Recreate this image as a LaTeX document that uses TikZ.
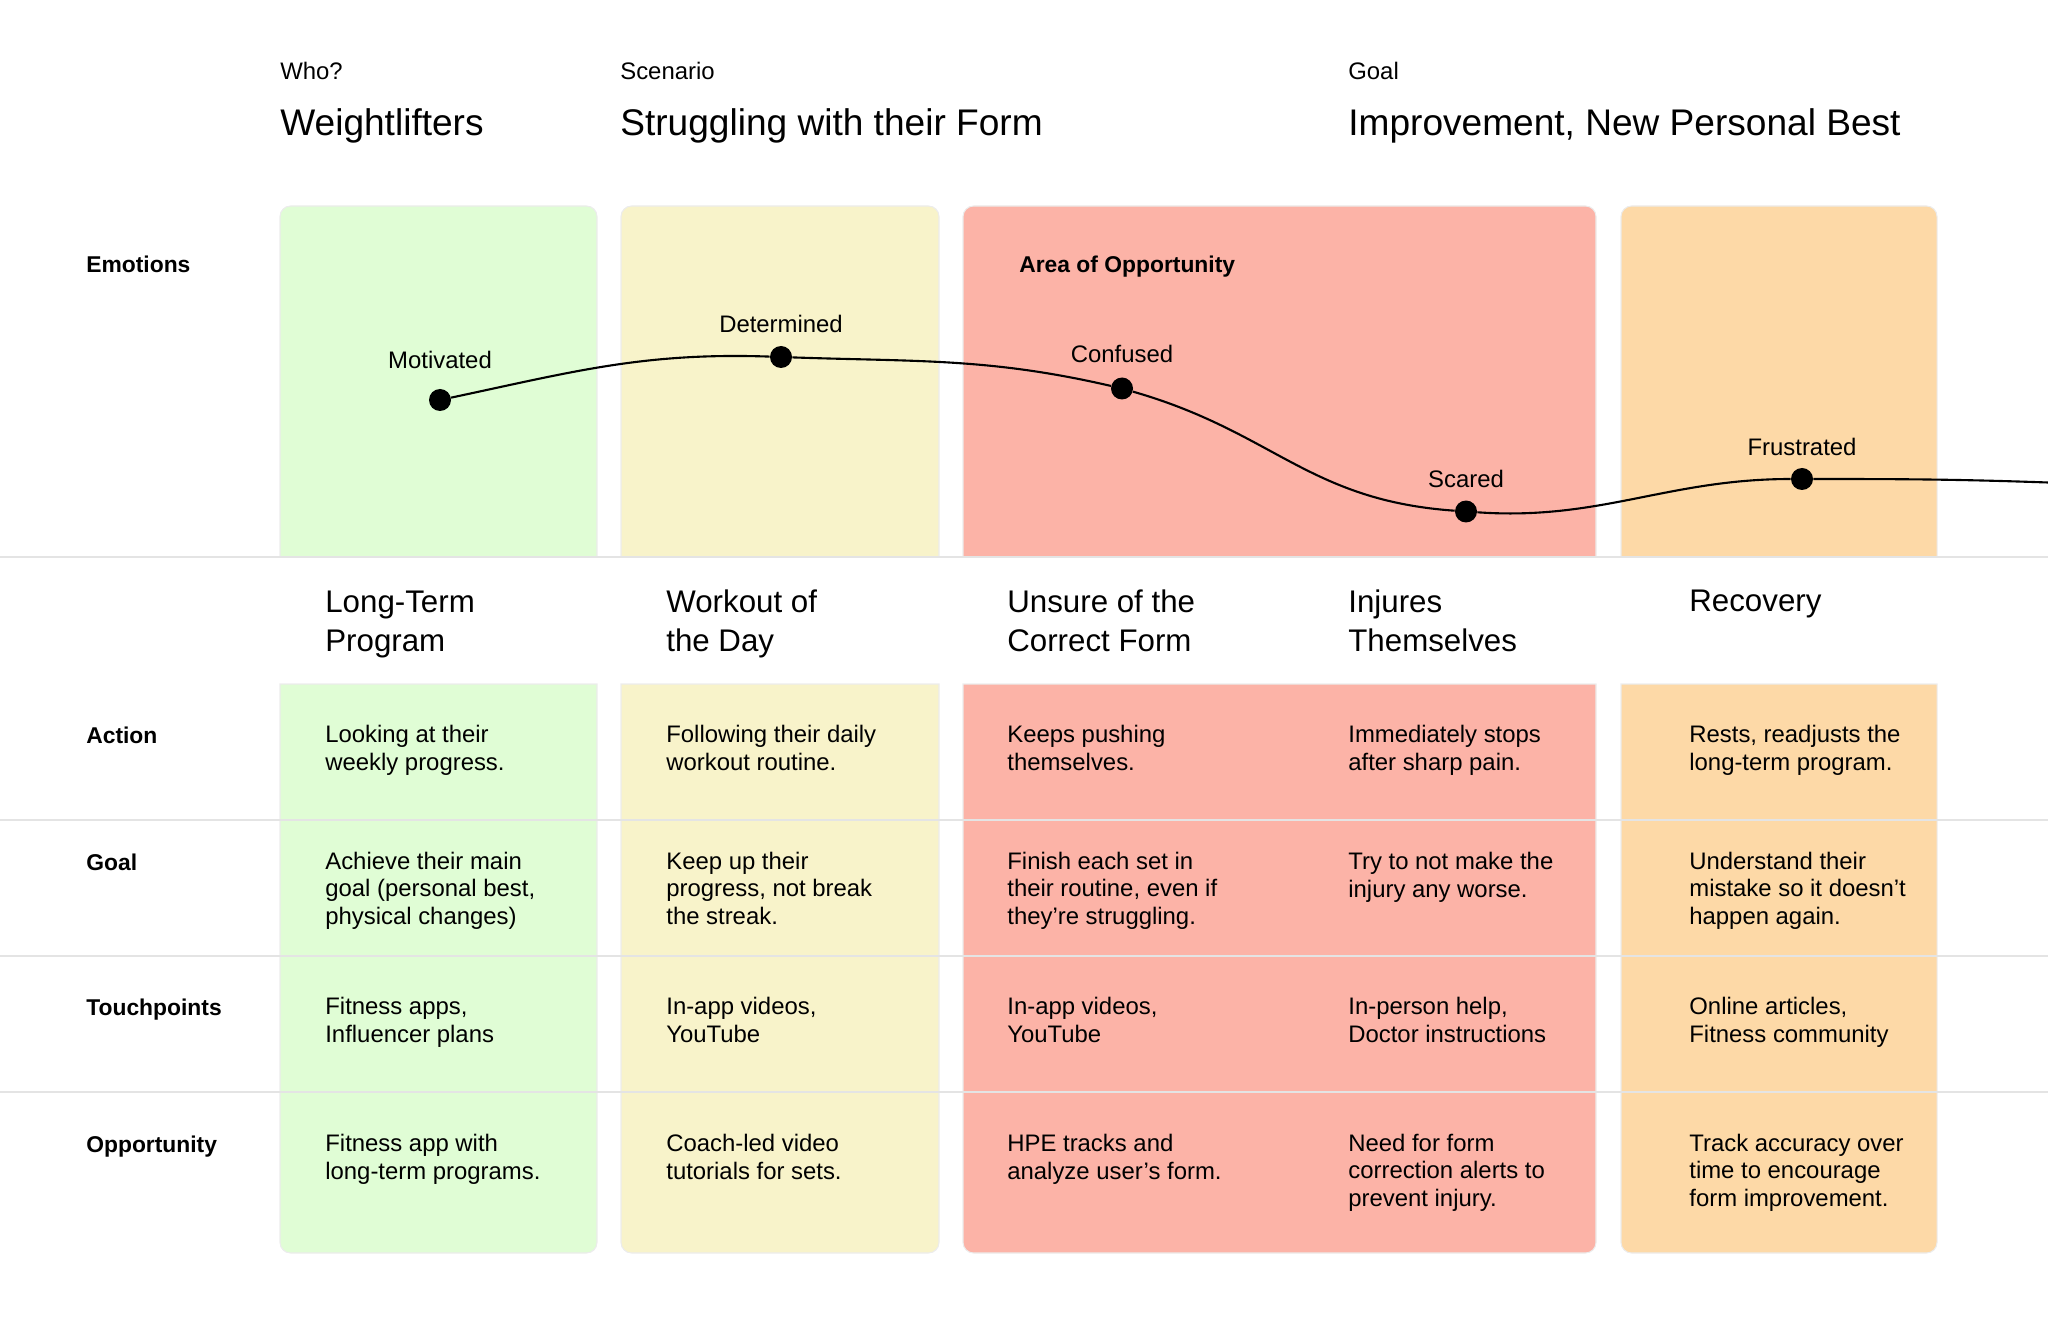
\documentclass[tikz,border=0pt]{standalone}
\usepackage{fontspec}
\setmainfont{Liberation Sans}
\definecolor{grn}{HTML}{E0FDD5}
\definecolor{ylw}{HTML}{F8F3CA}
\definecolor{rd}{HTML}{FCB3A7}
\definecolor{org}{HTML}{FDD9A7}
\definecolor{rulegray}{HTML}{E4E4E4}
\definecolor{edgegray}{HTML}{ECECEC}

\begin{document}
\begin{tikzpicture}[x=0.02cm, y=0.02cm,
  txt/.style={anchor=base west, inner sep=0pt, align=left, font=\fontsize{13.6}{15.4}\selectfont},
  hd/.style={txt, font=\fontsize{17.8}{22}\selectfont},
  ttl/.style={txt, font=\fontsize{21.1}{25}\selectfont},
  rowlbl/.style={txt, font=\fontsize{13}{15.4}\selectfont\bfseries},
  emo/.style={anchor=base, inner sep=0pt, font=\fontsize{13.6}{15.4}\selectfont},
  dot/.style={circle, fill=black, inner sep=0pt, minimum size=0.44cm},
  panel/.style={draw=edgegray, line width=0.6pt},
  sep/.style={draw=rulegray, line width=1.1pt}]
\useasboundingbox (0,0) rectangle (2048,1330);
% emotion band
\draw[panel, fill=grn] (280,773) [rounded corners=6pt] -- (280,1124) -- (597,1124) [sharp corners] -- (597,773) -- cycle;
\draw[panel, fill=ylw] (621,773) [rounded corners=6pt] -- (621,1124) -- (939,1124) [sharp corners] -- (939,773) -- cycle;
\draw[panel, fill=rd] (963,773) [rounded corners=6pt] -- (963,1124) -- (1596,1124) [sharp corners] -- (1596,773) -- cycle;
\draw[panel, fill=org] (1621,773) [rounded corners=6pt] -- (1621,1124) -- (1937,1124) [sharp corners] -- (1937,773) -- cycle;
% table band
\draw[panel, fill=grn] (280,646) [rounded corners=6pt] -- (280,77) -- (597,77) [sharp corners] -- (597,646) -- cycle;
\draw[panel, fill=ylw] (621,646) [rounded corners=6pt] -- (621,77) -- (939,77) [sharp corners] -- (939,646) -- cycle;
\draw[panel, fill=rd] (963,646) [rounded corners=6pt] -- (963,77) -- (1596,77) [sharp corners] -- (1596,646) -- cycle;
\draw[panel, fill=org] (1621,646) [rounded corners=6pt] -- (1621,77) -- (1937,77) [sharp corners] -- (1937,646) -- cycle;
\draw[sep] (0,773) -- (2048,773);
\draw[sep] (0,510) -- (2048,510);
\draw[sep] (0,374) -- (2048,374);
\draw[sep] (0,238) -- (2048,238);

% header
\node[txt] (who) at (280,1250) {Who?};
\node[txt] (scn) at (620,1250) {Scenario};
\node[txt] (gol) at (1348,1250) {Goal};
\node[ttl] (weight) at (280,1194) {Weightlifters};
\node[ttl] (strug) at (620,1194) {Struggling with their Form};
\node[ttl] (impr) at (1348,1194) {Improvement, New Personal Best};

% emotions
\node[rowlbl] (lemo) at (86,1057) {Emotions};
\node[rowlbl] (aoo) at (1019,1057) {Area of Opportunity};
\node[dot] (mot) at (440,930) {};
\node[dot] (det) at (781,973) {};
\node[dot] (conf) at (1122,941.5) {};
\node[dot] (sca) at (1466,818.5) {};
\node[dot] (fru) at (1802,851) {};
\coordinate (rend) at (2048,847.5);
\draw[line width=1.2pt] (mot) to[out=12,in=178] (det) to[out=-2,in=167] (conf)
  to[out=-16,in=176,looseness=1.1] (sca) to[out=-4,in=180] (fru) to[out=0,in=178] (rend);
\node[emo] (lmot) at (440,961) {Motivated};
\node[emo] (ldet) at (781,997) {Determined};
\node[emo] (lconf) at (1122,967) {Confused};
\node[emo] (lsca) at (1466,842) {Scared};
\node[emo] (lfru) at (1802,874) {Frustrated};

% stages (base = last line)
\node[hd] (s1) at (325,679) {Long-Term\\Program};
\node[hd] (s2) at (666,679) {Workout of\\the Day};
\node[hd] (s3) at (1007,679) {Unsure of the\\Correct Form};
\node[hd] (s4) at (1348,679) {Injures\\Themselves};
\node[hd] (s5) at (1689,718) {Recovery};

% rows
\node[rowlbl] (lact) at (86,587) {Action};
\node[txt] (a1) at (325,560) {Looking at their\\weekly progress.};
\node[txt] (a2) at (666,560) {Following their daily\\workout routine.};
\node[txt] (a3) at (1007,560) {Keeps pushing\\themselves.};
\node[txt] (a4) at (1348,560) {Immediately stops\\after sharp pain.};
\node[txt] (a5) at (1689,560) {Rests, readjusts the\\long-term program.};

\node[rowlbl] (lgoal) at (86,460) {Goal};
\node[txt] (g1) at (325,406) {Achieve their main\\goal (personal best,\\physical changes)};
\node[txt] (g2) at (666,406) {Keep up their\\progress, not break\\the streak.};
\node[txt] (g3) at (1007,406) {Finish each set in\\their routine, even if\\they’re struggling.};
\node[txt] (g4) at (1348,433) {Try to not make the\\injury any worse.};
\node[txt] (g5) at (1689,406) {Understand their\\mistake so it doesn’t\\happen again.};

\node[rowlbl] (ltouch) at (86,315) {Touchpoints};
\node[txt] (t1) at (325,288) {Fitness apps,\\Influencer plans};
\node[txt] (t2) at (666,288) {In-app videos,\\YouTube};
\node[txt] (t3) at (1007,288) {In-app videos,\\YouTube};
\node[txt] (t4) at (1348,288) {In-person help,\\Doctor instructions};
\node[txt] (t5) at (1689,288) {Online articles,\\Fitness community};

\node[rowlbl] (lopp) at (86,178) {Opportunity};
\node[txt] (o1) at (325,151) {Fitness app with\\long-term programs.};
\node[txt] (o2) at (666,151) {Coach-led video\\tutorials for sets.};
\node[txt] (o3) at (1007,151) {HPE tracks and\\analyze user’s form.};
\node[txt] (o4) at (1348,124) {Need for form\\correction alerts to\\prevent injury.};
\node[txt] (o5) at (1689,124) {Track accuracy over\\time to encourage\\form improvement.};
\end{tikzpicture}
\end{document}
